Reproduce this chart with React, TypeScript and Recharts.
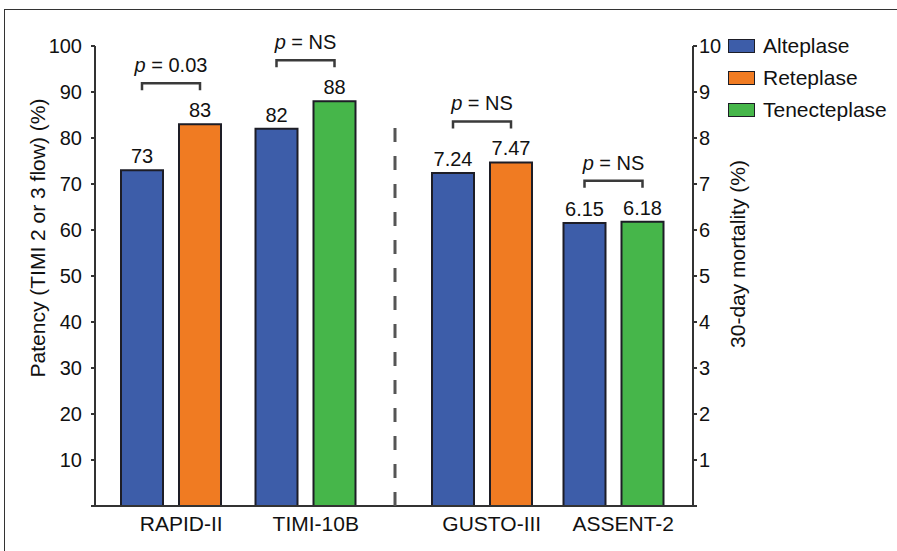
import React from 'react';
import { BarChart, Bar, XAxis, YAxis, LabelList, Legend, Cell } from 'recharts';

// ---- Data ----
const drugNames = ['Alteplase', 'Reteplase', 'Tenecteplase'];
const drugColors = ['#3d5da9', '#f07b22', '#46b64a'];

// Patency trials (left axis, %)
const leftTrials = ['RAPID-II', 'TIMI-10B'];
const leftAlteplase = [73, 82];
const leftComparator = [83, 88];
const leftComparatorDrug = ['Reteplase', 'Tenecteplase'];
const leftPValues = ['0.03', 'NS'];

// Mortality trials (right axis, %)
const rightTrials = ['GUSTO-III', 'ASSENT-2'];
const rightAlteplase = [7.24, 6.15];
const rightComparator = [7.47, 6.18];
const rightComparatorDrug = ['Reteplase', 'Tenecteplase'];
const rightPValues = ['NS', 'NS'];

const patencyTicks = [0, 10, 20, 30, 40, 50, 60, 70, 80, 90, 100];
const mortalityTicks = [0, 1, 2, 3, 4, 5, 6, 7, 8, 9, 10];

const leftData = leftTrials.map((t, i) => ({
  trial: t,
  alteplase: leftAlteplase[i],
  comparator: leftComparator[i],
  drug: leftComparatorDrug[i],
}));
const rightData = rightTrials.map((t, i) => ({
  trial: t,
  alteplase: rightAlteplase[i],
  comparator: rightComparator[i],
  drug: rightComparatorDrug[i],
}));

const colorOf = (name: string) => drugColors[drugNames.indexOf(name)];

const FONT = '"Liberation Sans", Arial, Helvetica, sans-serif';
const BAR_SIZE = 42;
const BAR_GAP = 16;
const TEXT = '#111';
const AXIS = '#333';
const BAR_STROKE = '#1d1d26';

const valueLabel = (props: any) => {
  const { x, y, width, value } = props;
  if (value == null) return null;
  const cx = Number(x) + Number(width) / 2;
  return (
    <text x={cx} y={Number(y) - 7} textAnchor="middle" fontSize={20} fill={TEXT} fontFamily={FONT}>
      {String(value)}
    </text>
  );
};

const makeComparatorLabel = (pVals: string[]) => (props: any) => {
  const { x, y, width, index, value } = props;
  if (value == null) return null;
  const cx = Number(x) + Number(width) / 2;
  const top = Number(y);
  const by = top - 41;
  const x1 = cx - (Number(width) + BAR_GAP);
  return (
    <g>
      <text x={cx} y={top - 7} textAnchor="middle" fontSize={20} fill={TEXT} fontFamily={FONT}>
        {String(value)}
      </text>
      <path d={`M${x1},${by + 7} V${by} H${cx} V${by + 7}`} stroke="#3a3a3a" strokeWidth={2.5} fill="none" />
      <text x={(x1 + cx) / 2} y={by - 11} textAnchor="middle" fontSize={20} fill={TEXT} fontFamily={FONT}>
        <tspan fontStyle="italic">p</tspan>
        <tspan> = {pVals[index]}</tspan>
      </text>
    </g>
  );
};

const renderLegend = () => (
  <div style={{ fontFamily: FONT }}>
    {drugNames.map((name, i) => (
      <div key={name} style={{ display: 'flex', alignItems: 'center', height: 32 }}>
        <div
          style={{
            width: 25,
            height: 12,
            background: drugColors[i],
            border: `1.5px solid ${BAR_STROKE}`,
            marginRight: 8,
          }}
        />
        <span style={{ fontSize: 21, color: TEXT, lineHeight: '32px' }}>{name}</span>
      </div>
    ))}
  </div>
);

export default function App() {
  return (
    <div
      style={{
        position: 'absolute',
        left: 0,
        top: 0,
        width: 897,
        height: 551,
        overflow: 'hidden',
        background: '#fff',
        fontFamily: FONT,
      }}
    >
      <div
        style={{
          position: 'absolute',
          left: 4,
          top: 9,
          width: 2000,
          height: 2000,
          border: '1px solid #333',
        }}
      />
      <div style={{ position: 'absolute', left: 0, top: 0 }}>
        <BarChart
          width={395}
          height={551}
          data={leftData}
          margin={{ top: 46, right: 0, bottom: 15, left: 35 }}
          barGap={BAR_GAP}
          style={{ fontFamily: FONT }}
        >
          <XAxis
            dataKey="trial"
            axisLine={{ stroke: AXIS, strokeWidth: 2 }}
            tickLine={false}
            tickSize={0}
            tickMargin={10}
            padding={{ left: 9, right: 22 }}
            tick={{ fontSize: 21, fill: TEXT, fontFamily: FONT, dx: 10 }}
            height={30}
          />
          <YAxis
            domain={[0, 100]}
            ticks={patencyTicks}
            interval={0}
            width={60}
            axisLine={{ stroke: AXIS, strokeWidth: 2 }}
            tickLine={{ stroke: AXIS, strokeWidth: 2 }}
            tickSize={4}
            tickMargin={9}
            tickFormatter={(v: number) => (v === 0 ? '' : String(v))}
            tick={{ fontSize: 20, fill: TEXT, fontFamily: FONT }}
            label={{
              value: 'Patency (TIMI 2 or 3 flow) (%)',
              angle: -90,
              position: 'center',
              dx: -27,
              dy: -38,
              style: { fontSize: 21, fill: TEXT, fontFamily: FONT },
            }}
          />
          <Bar dataKey="alteplase" name={drugNames[0]} fill={drugColors[0]} stroke={BAR_STROKE} strokeWidth={2} barSize={BAR_SIZE} isAnimationActive={false}>
            <LabelList dataKey="alteplase" content={valueLabel} />
          </Bar>
          <Bar dataKey="comparator" name="Comparator" stroke={BAR_STROKE} strokeWidth={2} barSize={BAR_SIZE} isAnimationActive={false}>
            {leftData.map((d, i) => (
              <Cell key={i} fill={colorOf(d.drug)} />
            ))}
            <LabelList dataKey="comparator" content={makeComparatorLabel(leftPValues)} />
          </Bar>
        </BarChart>
      </div>
      <div style={{ position: 'absolute', left: 395, top: 0 }}>
        <BarChart
          width={502}
          height={551}
          data={rightData}
          margin={{ top: 46, right: 114, bottom: 15, left: 0 }}
          barGap={BAR_GAP}
          style={{ fontFamily: FONT }}
        >
          <XAxis
            dataKey="trial"
            axisLine={{ stroke: AXIS, strokeWidth: 2 }}
            tickLine={false}
            tickSize={0}
            tickMargin={10}
            padding={{ left: 21, right: 14 }}
            tick={{ fontSize: 21, fill: TEXT, fontFamily: FONT, dx: 10 }}
            height={30}
          />
          <YAxis
            orientation="right"
            domain={[0, 10]}
            ticks={mortalityTicks}
            interval={0}
            width={90}
            axisLine={{ stroke: AXIS, strokeWidth: 2 }}
            tickLine={{ stroke: AXIS, strokeWidth: 2 }}
            tickSize={4}
            tickMargin={2}
            tickFormatter={(v: number) => (v === 0 ? '' : String(v))}
            tick={{ fontSize: 20, fill: TEXT, fontFamily: FONT }}
            label={{
              value: '30-day mortality (%)',
              angle: -90,
              position: 'center',
              dy: -22,
              style: { fontSize: 21, fill: TEXT, fontFamily: FONT },
            }}
          />
          <Legend
            layout="vertical"
            align="center"
            verticalAlign="middle"
            wrapperStyle={{ left: 333, top: 30, width: 169 }}
            content={renderLegend}
          />
          <Bar dataKey="alteplase" name={drugNames[0]} fill={drugColors[0]} stroke={BAR_STROKE} strokeWidth={2} barSize={BAR_SIZE} isAnimationActive={false}>
            <LabelList dataKey="alteplase" content={valueLabel} />
          </Bar>
          <Bar dataKey="comparator" name="Comparator" stroke={BAR_STROKE} strokeWidth={2} barSize={BAR_SIZE} isAnimationActive={false}>
            {rightData.map((d, i) => (
              <Cell key={i} fill={colorOf(d.drug)} />
            ))}
            <LabelList dataKey="comparator" content={makeComparatorLabel(rightPValues)} />
          </Bar>
        </BarChart>
      </div>
      <svg
        width={897}
        height={551}
        style={{ position: 'absolute', left: 0, top: 0, pointerEvents: 'none' }}
      >
        <line x1={395} x2={395} y1={128} y2={506} stroke="#555" strokeWidth={3} strokeDasharray="14 14" />
      </svg>
    </div>
  );
}
